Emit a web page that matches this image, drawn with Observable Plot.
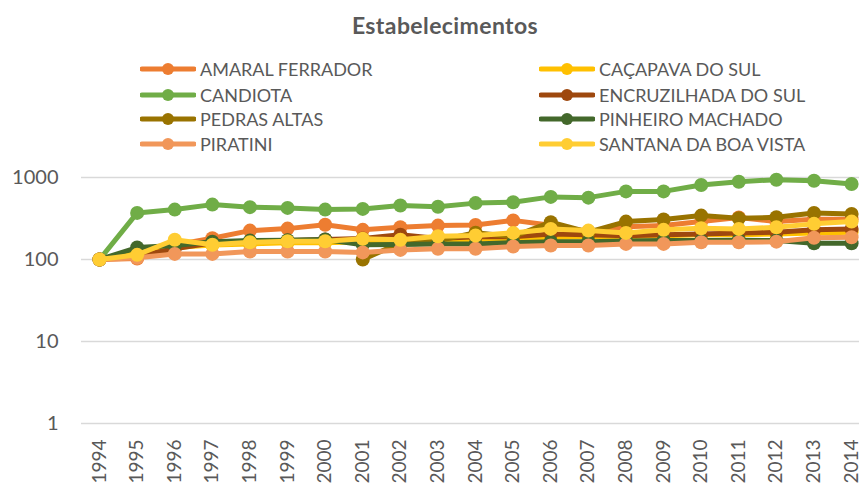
<!DOCTYPE html>
<html>
<head>
<meta charset="utf-8">
<script src="https://cdn.jsdelivr.net/npm/d3@7"></script>
<script src="https://cdn.jsdelivr.net/npm/@observablehq/plot@0.6"></script>
<style>
  html, body { margin: 0; padding: 0; background: #fff; }
  #wrap { position: relative; width: 859px; height: 485px; font-family: Lato, "Open Sans", sans-serif; color: #595959; overflow: hidden; }
  #title { position: absolute; left: 0; width: 890px; top: 11px; text-align: center; font-weight: bold; font-size: 23px; letter-spacing: 0.4px; }
  .leg { position: absolute; display: flex; align-items: center; font-size: 18px; white-space: nowrap; }
  .leg svg { margin-right: 4px; }
  #chart { position: absolute; left: 0; top: 0; }
</style>
</head>
<body>
<div id="wrap">
  <div id="chart"></div>
  <div id="title">Estabelecimentos</div>
  <div id="legend"></div>
</div>
<script>
const years = [1994,1995,1996,1997,1998,1999,2000,2001,2002,2003,2004,2005,2006,2007,2008,2009,2010,2011,2012,2013,2014];
const seriesNames = ["AMARAL FERRADOR","CAÇAPAVA DO SUL","CANDIOTA","ENCRUZILHADA DO SUL","PEDRAS ALTAS","PINHEIRO MACHADO","PIRATINI","SANTANA DA BOA VISTA"];
const seriesColors = ["#ED7D31","#FFC000","#70AD47","#9E480E","#997300","#43682B","#F1975A","#FFCD33"];

const amaralFerrador   = [100,103,150,182,225,238,265,230,247,259,264,300,262,220,250,260,290,325,290,310,310];
const cacapavaDoSul    = [100,120,140,150,155,160,160,165,165,170,175,180,185,190,190,195,200,200,205,210,215];
const candiota         = [100,370,406,467,435,426,406,414,455,440,487,500,580,568,677,677,811,889,940,914,834];
const encruzilhadaDoSul= [100,110,135,160,165,170,175,180,200,180,190,190,205,200,195,200,205,210,215,230,235];
const pedrasAltas      = [null,null,null,null,null,null,null,100,160,170,212,190,285,215,290,307,343,318,327,370,360];
const pinheiroMachado  = [100,140,148,165,170,172,175,151,152,155,155,160,165,165,168,170,170,172,170,158,158];
const piratini         = [100,105,117,117,125,125,125,122,131,135,135,144,148,148,155,155,162,162,165,184,187];
const santanaDaBoaVista= [100,114,174,151,162,167,167,179,174,192,196,211,236,225,211,230,240,236,247,272,290];

const seriesValues = [amaralFerrador,cacapavaDoSul,candiota,encruzilhadaDoSul,pedrasAltas,pinheiroMachado,piratini,santanaDaBoaVista];
const yTicks = [1,10,100,1000];

const marks = [
  Plot.ruleY(yTicks, {stroke: "#d9d9d9", strokeWidth: 1.5}),
  Plot.axisY({ticks: yTicks, tickSize: 0, tickPadding: 23, fontSize: 20, label: null, tickFormat: d => String(d)}),
  Plot.axisX({ticks: years, tickSize: 0, tickPadding: 16, tickRotate: -90, fontSize: 19, label: null, tickFormat: d => String(d)})
];
seriesNames.forEach((name, i) => {
  const data = years.map((yr, j) => ({year: yr, value: seriesValues[i][j]})).filter(d => d.value != null);
  marks.push(Plot.line(data, {x: "year", y: "value", stroke: seriesColors[i], strokeWidth: 5, strokeLinejoin: "round"}));
  marks.push(Plot.dot(data, {x: "year", y: "value", r: 7, fill: seriesColors[i], stroke: "none"}));
});

const chart = Plot.plot({
  width: 859,
  height: 485,
  marginTop: 177,
  marginBottom: 62,
  marginLeft: 81,
  marginRight: 0,
  style: {fontFamily: "Lato, 'Open Sans', sans-serif", color: "#595959", background: "transparent"},
  x: {type: "linear", domain: [1993.52, 2014.21], axis: null, label: null},
  y: {type: "log", domain: [1, 1000], axis: null, label: null},
  marks
});
document.getElementById("chart").appendChild(chart);

// legend
const legend = document.getElementById("legend");
const rowsY = [69, 95, 119, 144];
const colX = [140, 539];
seriesNames.forEach((name, i) => {
  const col = i % 2, row = Math.floor(i / 2);
  const div = document.createElement("div");
  div.className = "leg";
  div.style.left = colX[col] + "px";
  div.style.top = (rowsY[row] - 11) + "px";
  div.style.height = "22px";
  div.innerHTML = `<svg width="56" height="14"><line x1="2" y1="7" x2="54" y2="7" stroke="${seriesColors[i]}" stroke-width="5" stroke-linecap="round"/><circle cx="28" cy="7" r="6" fill="${seriesColors[i]}"/></svg><span>${name}</span>`;
  legend.appendChild(div);
});
</script>
</body>
</html>
